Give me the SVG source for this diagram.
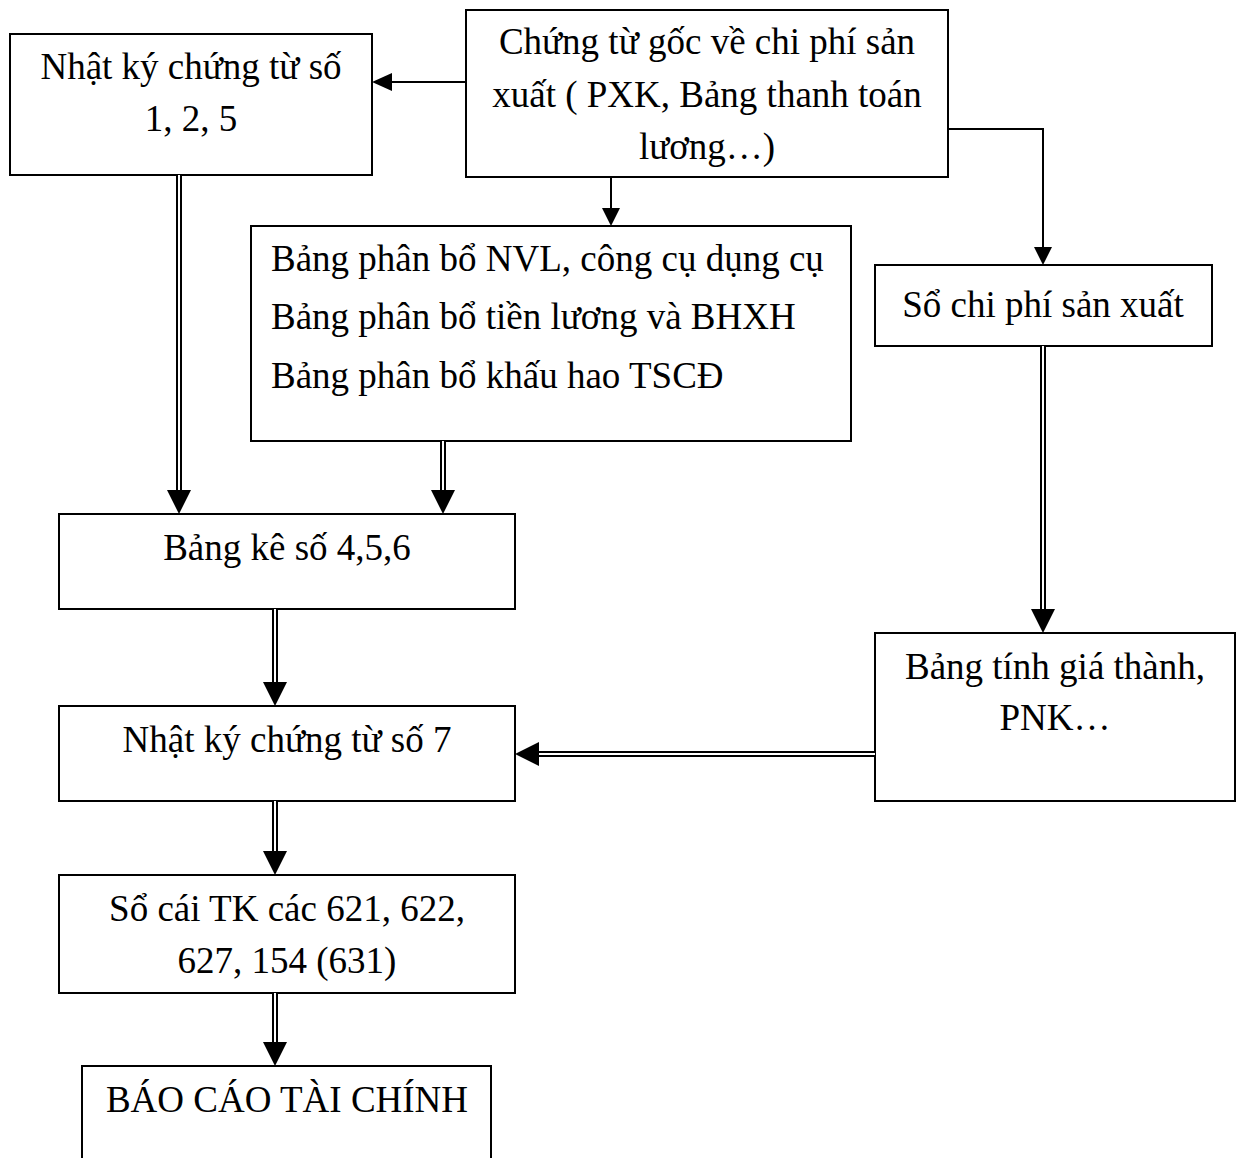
<svg xmlns="http://www.w3.org/2000/svg" width="1242" height="1158" viewBox="0 0 1242 1158">
  <style>
    .box { fill: #fff; stroke: #000; stroke-width: 2; }
    .t { font-family: "Liberation Serif", "Times New Roman", serif; font-size: 37px; fill: #000; }
    .c { text-anchor: middle; }
    .ln { fill: none; stroke: #000; stroke-width: 2; }
    .dbl { fill: none; stroke: #000; stroke-width: 6; }
    .dbl-in { fill: none; stroke: #fff; stroke-width: 2; }
    .head { fill: #000; }
  </style>
  <rect width="1242" height="1158" fill="#fff"/>

  <g id="nodes">
    <g id="nkct125">
      <rect class="box" x="10" y="34" width="362" height="141"/>
      <text class="t c" x="191" y="79">Nhật ký chứng từ số</text>
      <text class="t c" x="191" y="131">1, 2, 5</text>
    </g>
    <g id="chung-tu-goc">
      <rect class="box" x="466" y="10" width="482" height="167"/>
      <text class="t c" x="707" y="54">Chứng từ gốc về chi phí sản</text>
      <text class="t c" x="707" y="107">xuất ( PXK, Bảng thanh toán</text>
      <text class="t c" x="707" y="159">lương…)</text>
    </g>
    <g id="bang-phan-bo">
      <rect class="box" x="251" y="226" width="600" height="215"/>
      <text class="t" x="271" y="271">Bảng phân bổ NVL, công cụ dụng cụ</text>
      <text class="t" x="271" y="329">Bảng phân bổ tiền lương và BHXH</text>
      <text class="t" x="271" y="388">Bảng phân bổ khấu hao TSCĐ</text>
    </g>
    <g id="so-chi-phi">
      <rect class="box" x="875" y="265" width="337" height="81"/>
      <text class="t c" x="1043" y="317">Sổ chi phí sản xuất</text>
    </g>
    <g id="bang-ke">
      <rect class="box" x="59" y="514" width="456" height="95"/>
      <text class="t c" x="287" y="560">Bảng kê số 4,5,6</text>
    </g>
    <g id="bang-tinh-gia">
      <rect class="box" x="875" y="633" width="360" height="168"/>
      <text class="t c" x="1055" y="679">Bảng tính giá thành,</text>
      <text class="t c" x="1055" y="730">PNK…</text>
    </g>
    <g id="nkct7">
      <rect class="box" x="59" y="706" width="456" height="95"/>
      <text class="t c" x="287" y="752">Nhật ký chứng từ số 7</text>
    </g>
    <g id="so-cai">
      <rect class="box" x="59" y="875" width="456" height="118"/>
      <text class="t c" x="287" y="921">Sổ cái TK các 621, 622,</text>
      <text class="t c" x="287" y="973">627, 154 (631)</text>
    </g>
    <g id="bao-cao">
      <rect class="box" x="82" y="1066" width="409" height="100"/>
      <text class="t c" x="287" y="1112">BÁO CÁO TÀI CHÍNH</text>
    </g>
  </g>

  <g id="connectors">
    <!-- single-line arrows -->
    <path class="ln" d="M466 82 H392"/>
    <polygon class="head" points="372,82 392,73 392,91"/>
    <path class="ln" d="M611 177 V208"/>
    <polygon class="head" points="611,226 602,208 620,208"/>
    <path class="ln" d="M948 129 H1043 V247"/>
    <polygon class="head" points="1043,265 1034,247 1052,247"/>

    <!-- double-line arrows -->
    <path class="dbl" d="M179 175 V492"/>
    <path class="dbl-in" d="M179 175 V492"/>
    <polygon class="head" points="179,514 167,490 191,490"/>

    <path class="dbl" d="M443 441 V492"/>
    <path class="dbl-in" d="M443 441 V492"/>
    <polygon class="head" points="443,514 431,490 455,490"/>

    <path class="dbl" d="M1043 346 V611"/>
    <path class="dbl-in" d="M1043 346 V611"/>
    <polygon class="head" points="1043,633 1031,609 1055,609"/>

    <path class="dbl" d="M275 609 V684"/>
    <path class="dbl-in" d="M275 609 V684"/>
    <polygon class="head" points="275,706 263,682 287,682"/>

    <path class="dbl" d="M875 754 H537"/>
    <path class="dbl-in" d="M875 754 H537"/>
    <polygon class="head" points="515,754 539,742 539,766"/>

    <path class="dbl" d="M275 801 V853"/>
    <path class="dbl-in" d="M275 801 V853"/>
    <polygon class="head" points="275,875 263,851 287,851"/>

    <path class="dbl" d="M275 993 V1044"/>
    <path class="dbl-in" d="M275 993 V1044"/>
    <polygon class="head" points="275,1066 263,1042 287,1042"/>
  </g>
</svg>
